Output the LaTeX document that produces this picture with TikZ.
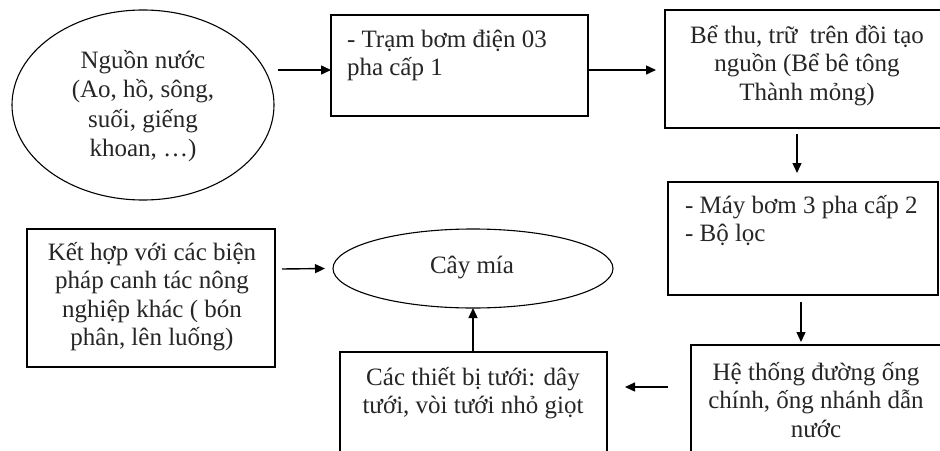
\documentclass[tikz,border=0pt]{standalone}
\usepackage{fontspec}
\setmainfont{Liberation Serif}
\usetikzlibrary{arrows.meta,shapes.geometric}
\newcommand\lsA{\rule[-8pt]{0pt}{28.5pt}}
\newcommand\lsB{\rule[-8.5pt]{0pt}{29.5pt}}
\begin{document}
\begin{tikzpicture}[x=1pt,y=-1pt,
  every node/.style={inner sep=0pt,outer sep=0pt},
  txt/.style={font=\fontsize{25}{28.5}\selectfont,text=black!85},
  boxnode/.style={draw,line width=1.1pt,rectangle},
  ovalnode/.style={draw,line width=1.1pt,ellipse},
  arr/.style={line width=1.4pt,-{Triangle[length=10pt,width=9pt]}}]
\useasboundingbox (0,0) rectangle (940,450);
\clip (0,0) rectangle (940,450);
\fill[white] (0,0) rectangle (940,450);
% shapes
\node[ovalnode,minimum width=262pt,minimum height=190pt] (src) at (143,105) {};
\node[boxnode,minimum width=257pt,minimum height=101pt] (b2) at (459.5,65.5) {};
\node[boxnode,minimum width=285pt,minimum height=118pt] (b3) at (807.5,69) {};
\node[boxnode,minimum width=270pt,minimum height=113pt] (b4) at (803,238.5) {};
\node[boxnode,minimum width=259pt,minimum height=125pt] (b5) at (820.5,407.5) {};
\node[boxnode,minimum width=267pt,minimum height=118pt] (b6) at (473.5,411) {};
\node[boxnode,minimum width=248pt,minimum height=138pt] (b7) at (151,298) {};
\node[ovalnode,minimum width=280pt,minimum height=79pt] (cay) at (473,268.5) {};
% texts
\node[txt,font=\fontsize{25}{29.5}\selectfont,align=center,anchor=north] (tsrc) at (143,47)
  {\lsB Nguồn nước\\\lsB (Ao, hồ, sông,\\\lsB suối, giếng\\\lsB khoan, …)};
\node[txt,align=left,anchor=north west] (t2) at (347,26.5)
  {\lsA - Trạm bơm điện 03\\\lsA pha cấp 1};
\node[txt,align=center,anchor=north] (t3) at (807,22.5)
  {\lsA Bể thu, trữ~ trên đồi tạo\\\lsA nguồn (Bể bê tông\\\lsA Thành mỏng)};
\node[txt,align=left,anchor=north west] (t4) at (685,192.5)
  {\lsA - Máy bơm 3 pha cấp 2\\\lsA - Bộ lọc};
\node[txt,align=center,anchor=north] (t5) at (816,359.5)
  {\lsA Hệ thống đường ống\\\lsA chính, ống nhánh dẫn\\\lsA nước};
\node[txt,align=center,anchor=north] (t6) at (473,364.5)
  {\lsA Các thiết bị tưới: dây\\\lsA tưới, vòi tưới nhỏ giọt};
\node[txt,align=center,anchor=north] (t7) at (152,239.5)
  {\lsA Kết hợp với các biện\\\lsA pháp canh tác nông\\\lsA nghiệp khác ( bón\\\lsA phân, lên luống)};
\node[txt,anchor=base] (tcay) at (472,273) {Cây mía};
% connectors
\draw[arr] ([shift={(-53,4.5)}]b2.west) -- ([shift={(0,4.5)}]b2.west);
\draw[arr] ([shift={(0,4.5)}]b2.east) -- ([shift={(-9,1)}]b3.west);
\draw[arr] ([shift={(-10.5,6)}]b3.south) -- ([shift={(-6,-9)}]b4.north);
\draw[arr] ([shift={(-2,7)}]b4.south) -- ([shift={(-19.5,-3)}]b5.north);
\draw[arr] ([shift={(-23,-20.5)}]b5.west) -- ([shift={(18,-24)}]b6.east);
\draw[arr] (b6.north -| cay.south) -- (cay.south);
\draw[arr] ([shift={(7,-29)}]b7.east) -- ([shift={(-8,0)}]cay.west);
\end{tikzpicture}
\end{document}
